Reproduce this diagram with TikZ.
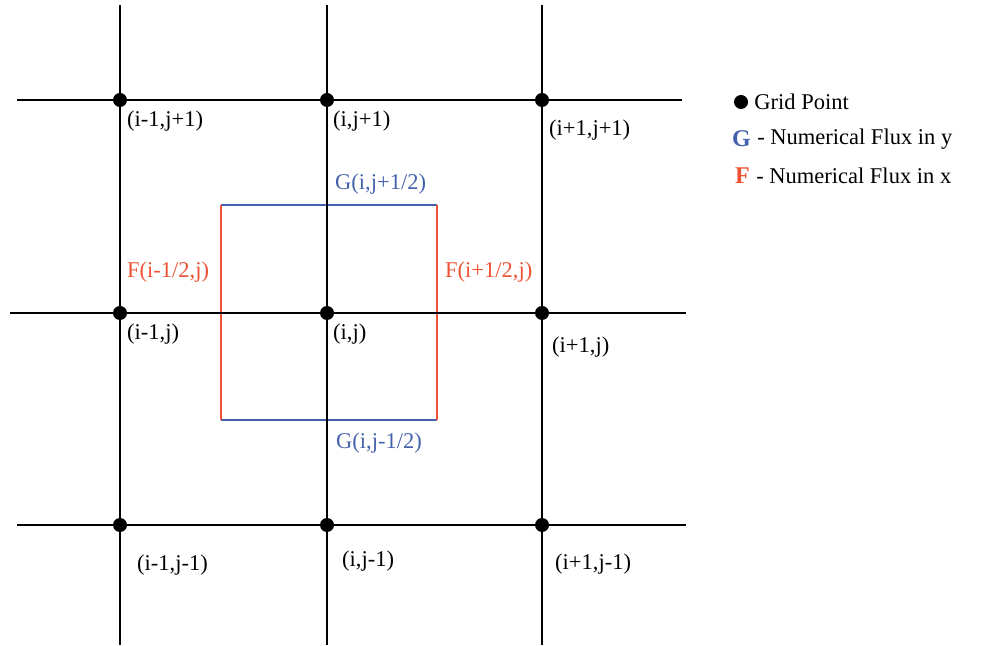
\documentclass[tikz,border=0pt]{standalone}
\usepackage{fontspec}
\setmainfont{Liberation Serif}
\usetikzlibrary{positioning}

\definecolor{fluxblue}{RGB}{68,98,172}
\definecolor{fluxred}{RGB}{238,82,52}

\tikzset{
  gridline/.style={line width=1.4pt},
  gridpt/.style={circle,fill=black,inner sep=0pt,minimum size=14pt},
  lbl/.style={anchor=west,inner sep=0pt,font=\fontsize{22.5}{26}\selectfont},
}

\begin{document}
\begin{tikzpicture}[x=1pt,y=1pt]
  \useasboundingbox (0,0) rectangle (981,645);

  % line ends
  \coordinate (t1) at (120,640); \coordinate (b1) at (120,0);
  \coordinate (t2) at (327,640); \coordinate (b2) at (327,0);
  \coordinate (t3) at (542,640); \coordinate (b3) at (542,0);
  \coordinate (l1) at (17,545);  \coordinate (r1) at (682,545);
  \coordinate (l2) at (10,332);  \coordinate (r2) at (686,332);
  \coordinate (l3) at (17,120);  \coordinate (r3) at (686,120);

  % control volume
  \coordinate (cnw) at (221,440); \coordinate (cne) at (437,440);
  \coordinate (csw) at (221,225); \coordinate (cse) at (437,225);
  \draw[fluxblue,line width=1.2pt] (cnw) -- (cne) (csw) -- (cse);
  \draw[fluxred,line width=1.2pt] (cnw) -- (csw) (cne) -- (cse);

  \foreach \i in {1,2,3} {
    \draw[gridline] (t\i) -- (b\i);
    \draw[gridline] (l\i) -- (r\i);
  }

  % grid points
  \node[gridpt] (p11) at (120,545) {};
  \node[gridpt] (p21) at (327,545) {};
  \node[gridpt] (p31) at (542,545) {};
  \node[gridpt] (p12) at (120,332) {};
  \node[gridpt] (p22) at (327,332) {};
  \node[gridpt] (p32) at (542,332) {};
  \node[gridpt] (p13) at (120,120) {};
  \node[gridpt] (p23) at (327,120) {};
  \node[gridpt] (p33) at (542,120) {};

  % point labels
  \node[lbl] (n11) at (127,524) {(i-1,j+1)};
  \node[lbl] (n21) at (333,524) {(i,j+1)};
  \node[lbl] (n31) at (549,515) {(i+1,j+1)};
  \node[lbl] (n12) at (127,311) {(i-1,j)};
  \node[lbl] (n22) at (333,311) {(i,j)};
  \node[lbl] (n32) at (552,298) {(i+1,j)};
  \node[lbl] (n13) at (137,80) {(i-1,j-1)};
  \node[lbl] (n23) at (342,84) {(i,j-1)};
  \node[lbl] (n33) at (555,81) {(i+1,j-1)};

  % flux labels
  \node[lbl,text=fluxblue] (gtop) at (335,461) {G(i,j+1/2)};
  \node[lbl,text=fluxblue] (gbot) at (336,202) {G(i,j-1/2)};
  \node[lbl,text=fluxred] (fleft) at (127,373) {F(i-1/2,j)};
  \node[lbl,text=fluxred] (fright) at (445,373) {F(i+1/2,j)};

  % legend
  \node[gridpt] (key) at (741,543) {};
  \node[lbl,right=6pt of key] (keytxt) {Grid Point};
  \node[lbl,text=fluxblue,font=\fontsize{24}{26}\selectfont\bfseries] (gkey) at (732,506) {G};
  \node[lbl,right=6pt of gkey] (gtxt) {- Numerical Flux in y};
  \node[lbl,text=fluxred,font=\fontsize{24}{26}\selectfont\bfseries] (fkey) at (735,469) {F};
  \node[lbl,right=6pt of fkey] (ftxt) {- Numerical Flux in x};
\end{tikzpicture}
\end{document}
